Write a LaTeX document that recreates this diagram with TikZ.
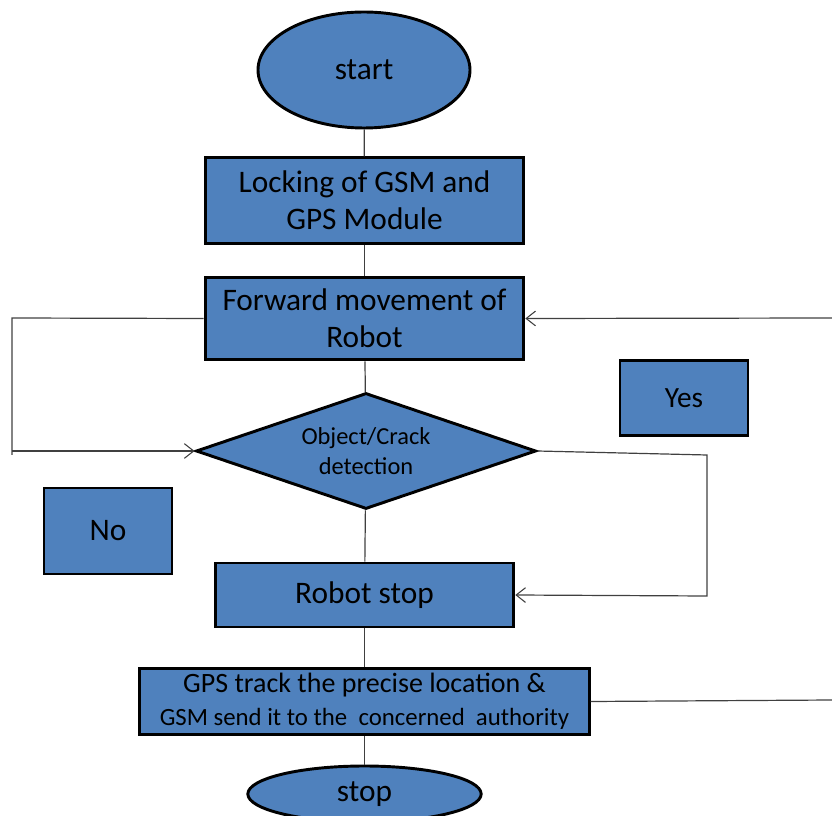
\documentclass[tikz,border=0pt]{standalone}
\usepackage{fontspec}
\setmainfont{Carlito}
\usepackage{xcolor}
\usepackage{tikz}
\usetikzlibrary{shapes.geometric}
\usetikzlibrary{arrows.meta}
\definecolor{boxblue}{HTML}{4F81BD}
\definecolor{linegray}{HTML}{404040}

\tikzset{
	block/.style={draw=black,fill=boxblue,line width=2.2pt,rectangle,align=center,inner sep=2pt,font=\fontsize{23.5}{28}\selectfont},
	term/.style={draw=black,fill=boxblue,line width=2.2pt,ellipse,inner sep=0pt,font=\fontsize{23.5}{28}\selectfont},
	decide/.style={draw=black,fill=boxblue,line width=2.2pt,diamond,aspect=2.93,inner sep=0pt,align=center,font=\fontsize{18.3}{22.5}\selectfont},
	link/.style={draw=linegray,line width=0.9pt},
	flow/.style={link,-{Straight Barb[length=7pt,width=11pt,line width=0.8pt]}}
}

\begin{document}
\begin{tikzpicture}[x=0.75pt,y=-0.75pt]
	\useasboundingbox (0,0) rectangle (832,816);
	% nodes
	\node[term,minimum width=159pt,minimum height=87pt] (start) at (364,70) {start};
	\node[block,minimum width=239pt,minimum height=64pt] (lock) at (364.5,200.5) {Locking of GSM and\\GPS Module};
	\node[block,minimum width=239pt,minimum height=62pt] (fwd) at (364.5,318.5) {Forward movement of\\Robot};
	\node[decide,minimum width=255pt,minimum height=87pt] (detect) at (366,451) {Object/Crack\\detection};
	\node[block,minimum width=96pt,minimum height=56pt,font=\fontsize{22}{26}\selectfont] (yes) at (684,398) {Yes};
	\node[block,minimum width=96pt,minimum height=64.5pt] (no) at (108,531) {No};
	\node[block,minimum width=224pt,minimum height=48pt] (rstop) at (364.5,595) {Robot stop};
	\node[block,minimum width=337pt,minimum height=50pt,font=\fontsize{21}{25}\selectfont] (gps) at (364.5,701.5) {GPS track the precise location \&\\{\fontsize{18.6}{22}\selectfont GSM send it to the\ \ concerned\ \ authority}};
	\node[term,minimum width=175pt,minimum height=42pt] (stop) at (364.5,794) {stop};
	% turning points
	\coordinate (lefttop) at (12,318);
	\coordinate (leftbot) at (12,451);
	\coordinate (rightin) at (832,318);
	\coordinate (rightout) at (832,700);
	\coordinate (bendtop) at (707,455);
	\coordinate (bendbot) at (707,596);
	% connectors
	\draw[link] (start) -- (lock);
	\draw[link] (lock) -- (fwd);
	\draw[link] (fwd) -- (detect);
	\draw[link] (detect) -- (rstop);
	\draw[link] (rstop) -- (gps);
	\draw[link] (gps) -- (stop);
	\draw[link] (fwd.west) -- (lefttop) -- ([yshift=-3]leftbot);
	\draw[flow] (leftbot) -- (detect.west);
	\draw[flow] (detect.east) -- (bendtop) -- (bendbot) -- (rstop.east);
	\draw[flow] (rightin) -- (fwd.east);
	\draw[link] (gps.east) -- (rightout);
\end{tikzpicture}
\end{document}
